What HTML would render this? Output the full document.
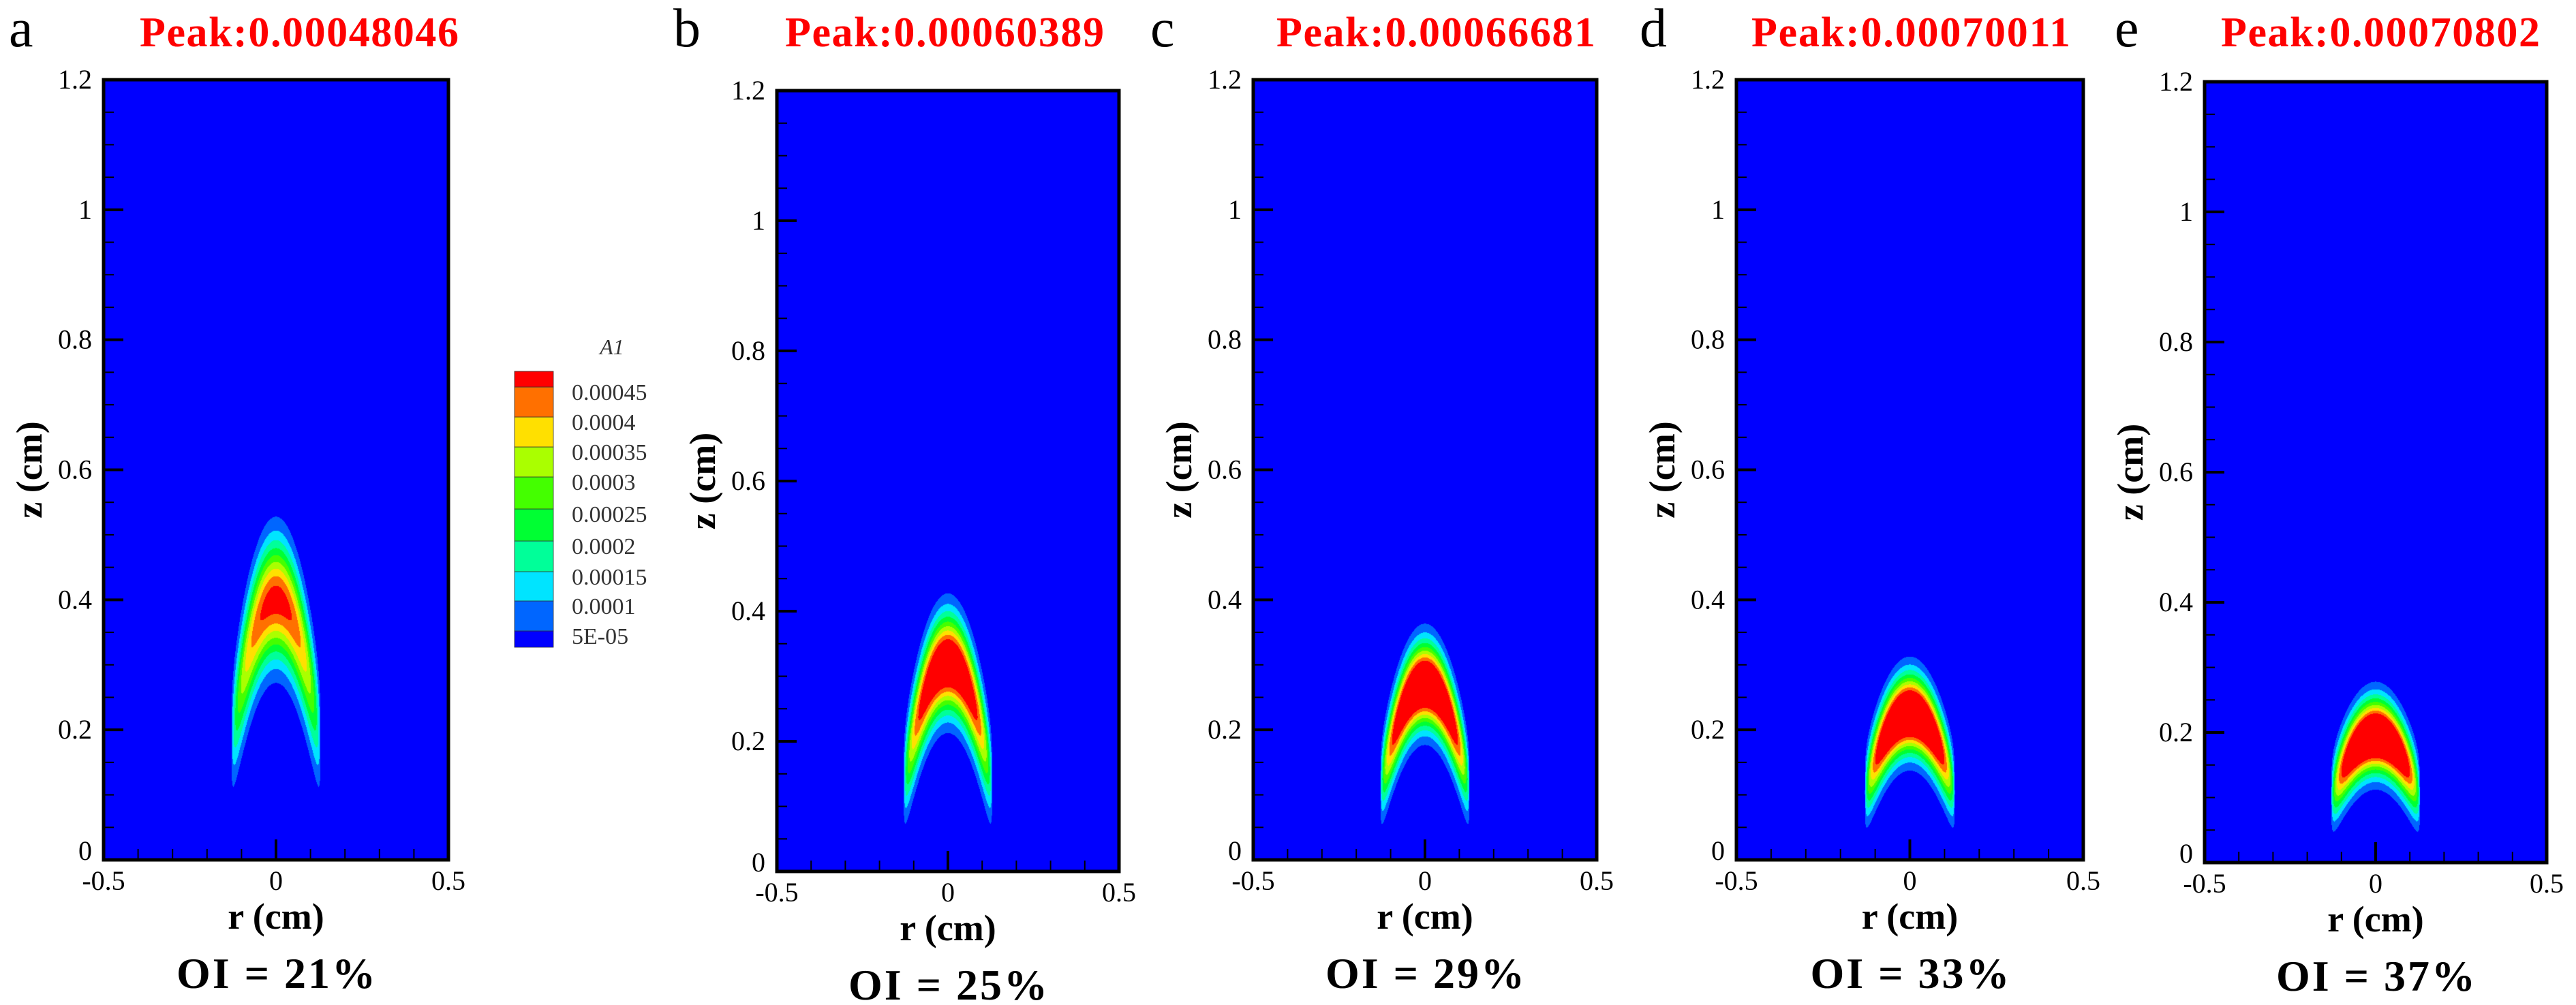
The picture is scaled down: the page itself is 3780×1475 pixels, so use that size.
<!DOCTYPE html>
<html><head><meta charset="utf-8">
<style>
html,body{margin:0;padding:0;background:#fff;}
#wrap{position:relative;width:3780px;height:1475px;overflow:hidden;background:#fff;}
canvas{position:absolute;}
svg{position:absolute;left:0;top:0;}
</style></head>
<body>
<div id="wrap"></div>
<script>
// ---- data ----
const panelLetters = ["a","b","c","d","e"];
const peakValues = [0.00048046, 0.00060389, 0.00066681, 0.00070011, 0.00070802];
const peakLabels = ["Peak:0.00048046","Peak:0.00060389","Peak:0.00066681","Peak:0.00070011","Peak:0.00070802"];
const peakZ = [0.40, 0.32, 0.27, 0.225, 0.195];
const widthZ = [0.085, 0.068, 0.058, 0.054, 0.051];
const archCurvature = [13, 11, 9.5, 7.2, 5.6];
const oiLabels = ["OI = 21%","OI = 25%","OI = 29%","OI = 33%","OI = 37%"];
const levels = [0.00005,0.0001,0.00015,0.0002,0.00025,0.0003,0.00035,0.0004,0.00045];
const levelLabels = ["5E-05","0.0001","0.00015","0.0002","0.00025","0.0003","0.00035","0.0004","0.00045"];
const bandColors = ["#0000ff","#0066ff","#00e4ff","#00ff99","#00ff33","#44ff00","#aaff00","#ffe000","#ff7000","#ff0000"];
const yTicks = [0,0.2,0.4,0.6,0.8,1,1.2];
const yTickLabels = ["0","0.2","0.4","0.6","0.8","1","1.2"];
const xTicks = [-0.5,0,0.5];
const xTickLabels = ["-0.5","0","0.5"];
// ---- layout ----
const frames = [
 {x0:152,x1:658,y0:117,y1:1262,letterX:13,titleX:205},
 {x0:1140,x1:1642,y0:133,y1:1279,letterX:988,titleX:1152},
 {x0:1839,x1:2343,y0:117,y1:1262,letterX:1688,titleX:1873},
 {x0:2548,x1:3057,y0:117,y1:1262,letterX:2406,titleX:2570},
 {x0:3235,x1:3737,y0:120,y1:1266,letterX:3103,titleX:3259}
];
const cbEdges = [950,926,882,839,794,747,700,656,612,568,545]; // bottom -> top pixel edges (layout)
const R_EDGE = 0.13;
const FONT = "'Liberation Serif', 'DejaVu Serif', serif";
const NS="http://www.w3.org/2000/svg";
const wrap=document.getElementById('wrap');
const svg=document.createElementNS(NS,'svg');
svg.setAttribute('width',3780);svg.setAttribute('height',1475);


const root=document.createElementNS(NS,'g');
root.setAttribute('style',"font-family:"+FONT+";");


svg.appendChild(root);

function mk(tag,attrs,parent){const e=document.createElementNS(NS,tag);for(const k in attrs)e.setAttribute(k,attrs[k]);(parent||root).appendChild(e);return e;}
function field(i,r,z){
  if(Math.abs(r)>=R_EDGE) return 0;
  const env=Math.sqrt(1-(r/R_EDGE)*(r/R_EDGE));
  const c=peakZ[i]-archCurvature[i]*r*r;
  const d=(z-c)/widthZ[i];
  return peakValues[i]*Math.exp(-d*d)*env;
}
function band(v){let b=0;for(let k=0;k<levels.length;k++){if(v>=levels[k])b=k+1;}return b;}

frames.forEach((f,i)=>{
  const W=f.x1-f.x0,H=f.y1-f.y0;
  const sx=r=>f.x0+(r+0.5)/1*W;
  const sy=z=>f.y1-z/1.2*H;
  const cv=document.createElement('canvas');
  cv.width=W;cv.height=H;cv.style.left=f.x0+'px';cv.style.top=f.y0+'px';
  
  
  const ctx=cv.getContext('2d');
  ctx.fillStyle=bandColors[0];ctx.fillRect(0,0,W,H);
  for(let py=0;py<H;py++){
    const z=(H-py-0.5)/H*1.2;
    for(let px=0;px<W;px++){
      const r=(px+0.5)/W-0.5;
      if(Math.abs(r)>=R_EDGE) continue;
      const b=band(field(i,r,z));
      if(b>0){ctx.fillStyle=bandColors[b];ctx.fillRect(px,py,1,1);}
    }
  }
  wrap.appendChild(cv);
  const g=mk('g',{});
  
  
  for(let k=0;k<=24;k++){
    const z=k*0.05;const y=sy(z);const major=(k%4===0);
    const t=mk('line',{x1:f.x0,x2:f.x0+(major?29:15),y1:y,y2:y,stroke:'#000','stroke-width':major?4:2},g);
    
    
  }
  for(let k=-4;k<=4;k++){
    const x=sx(k*0.1);const major=(k===0);
    const t=mk('line',{x1:x,x2:x,y1:f.y1,y2:f.y1-(major?30:16),stroke:'#000','stroke-width':major?4:2},g);
    
    
  }
  const fr=mk('rect',{x:f.x0,y:f.y0,width:W,height:H,fill:'none',stroke:'#000','stroke-width':5},g);
  
  
  yTicks.forEach((z,k)=>{
    const t=mk('text',{x:f.x0-17,y:sy(z)+(k===0?0:13),'text-anchor':'end','font-size':40,fill:'#000'},g);
    t.textContent=yTickLabels[k];
    
    
  });
  xTicks.forEach((r,k)=>{
    const t=mk('text',{x:sx(r),y:f.y1+44,'text-anchor':'middle','font-size':40,fill:'#000'},g);
    t.textContent=xTickLabels[k];
    
    
  });
  const xl=mk('text',{x:(f.x0+f.x1)/2,y:f.y1+101,'text-anchor':'middle','font-weight':'bold','font-size':54,fill:'#000'},g);
  xl.textContent='r (cm)';
  
  
  const cy=(f.y0+f.y1)/2;
  const yl=mk('text',{x:f.x0-91,y:cy,transform:`rotate(-90 ${f.x0-91} ${cy})`,'text-anchor':'middle','font-weight':'bold','font-size':54,fill:'#000'},g);
  yl.textContent='z (cm)';
  
  
  const oi=mk('text',{x:(f.x0+f.x1)/2,y:f.y1+188,'text-anchor':'middle','font-weight':'bold','font-size':64,'textLength':292,fill:'#000'},g);
  oi.textContent=oiLabels[i];
  
  
  const tt=mk('text',{x:f.titleX,y:68,'font-weight':'bold','font-size':62,'textLength':468,fill:'#ff0000'},g);
  tt.textContent=peakLabels[i];
  
  
  const lt=mk('text',{x:f.letterX,y:68,'font-size':80,fill:'#000'},g);
  lt.textContent=panelLetters[i];
  
  
});

const cb=mk('g',{});


const cbX=755,cbW=57;
bandColors.forEach((c,k)=>{
  const yb=cbEdges[k],yt=cbEdges[k+1];
  const rr=mk('rect',{x:cbX,y:yt,width:cbW,height:yb-yt,fill:c,stroke:'#333','stroke-width':0.8},cb);
  
  
});
levels.forEach((v,k)=>{
  const t=mk('text',{x:839,y:cbEdges[k+1]+19,'font-size':34,fill:'#333'},cb);
  t.textContent=levelLabels[k];
  
  
});
const ct=mk('text',{x:898,y:520,'text-anchor':'middle','font-style':'italic','font-size':32,fill:'#333'},cb);
ct.textContent='A1';


wrap.appendChild(svg);
</script>
</body></html>
